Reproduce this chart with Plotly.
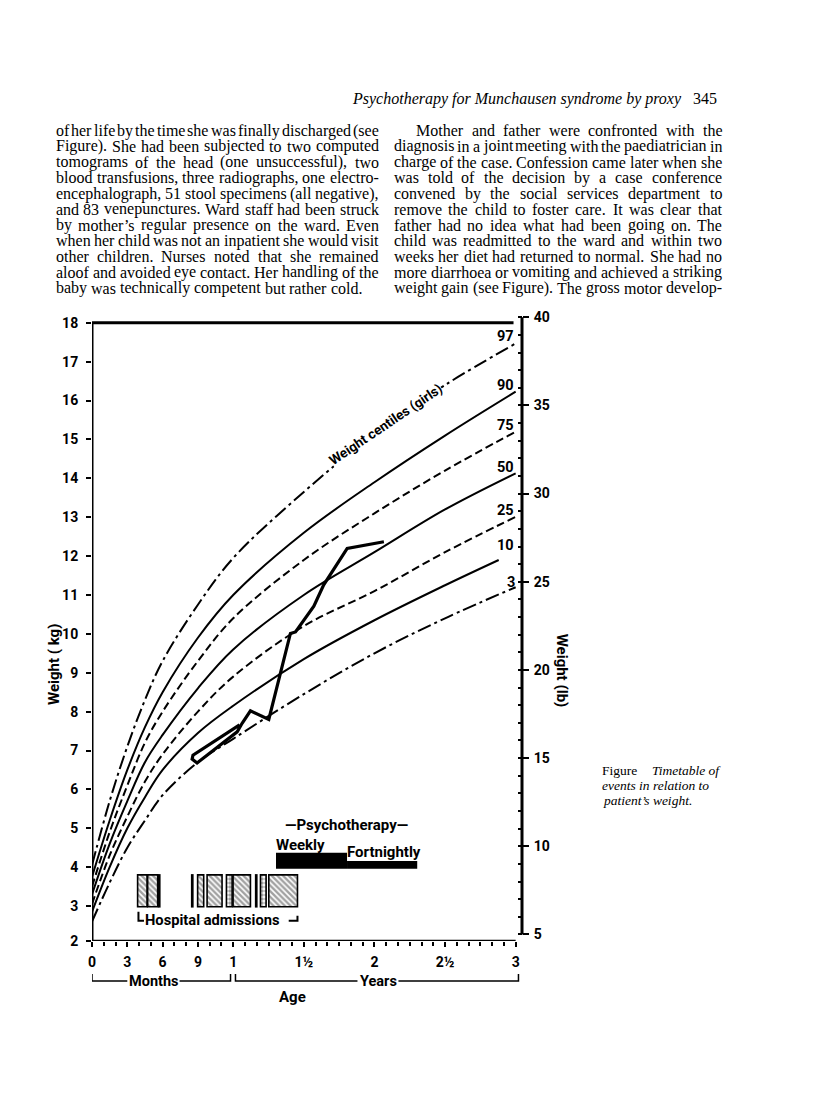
import plotly.graph_objects as go

# ---------------------------------------------------------------------------
# Data
# ---------------------------------------------------------------------------
# centile curves (kg) against age (years)
ages = [0, 0.125, 0.25, 0.375, 0.5, 0.75, 1.0, 1.5, 2.0, 2.5, 3.0]
c97 = [4.05, 5.7, 7.1, 8.3, 9.3, 10.75, 11.95, 13.65, 15.15, 16.4, 17.47]
c90 = [3.75, 5.2, 6.5, 7.6, 8.5, 9.9, 11.0, 12.6, 13.9, 15.1, 16.23]
c75 = [3.5, 4.9, 6.1, 7.2, 8.0, 9.3, 10.4, 11.9, 13.1, 14.2, 15.2]
c50 = [3.3, 4.6, 5.7, 6.7, 7.4, 8.6, 9.6, 11.0, 12.1, 13.2, 14.13]
c25 = [3.05, 4.3, 5.3, 6.2, 6.9, 8.0, 8.9, 10.2, 11.1, 12.1, 13.01]
ages10 = [0, 0.125, 0.25, 0.375, 0.5, 0.75, 1.0, 1.5, 2.0, 2.5, 2.88]
c10 = [2.85, 4.0, 5.0, 5.8, 6.5, 7.45, 8.15, 9.35, 10.35, 11.25, 11.9]
c03 = [2.6, 3.6, 4.5, 5.2, 5.85, 6.7, 7.3, 8.45, 9.5, 10.4, 11.2]

# patient's weight
pt_age = [1.045, 0.715, 0.709, 0.744, 1.028, 1.063, 1.122, 1.252, 1.405, 1.441, 1.571, 1.641, 1.807, 2.067]
pt_kg = [7.66, 6.88, 6.78, 6.68, 7.48, 7.70, 8.02, 7.80, 10.01, 10.05, 10.71, 11.26, 12.20, 12.37]

# hospital admissions (start / end age) and how each block is shaded
adm_start = [0.323, 0.394, 0.472, 0.706, 0.748, 0.815, 0.952, 0.999, 1.159, 1.193, 1.252]
adm_end = [0.390, 0.465, 0.480, 0.714, 0.791, 0.921, 0.992, 1.122, 1.167, 1.233, 1.455]
adm_fill = ["hatch", "hatch", "solid", "solid", "hatch", "hatch", "dots", "hatch", "solid", "dots", "hatch"]

# psychotherapy: weekly then fortnightly
psy_label = ["Weekly", "Fortnightly"]
psy_start = [1.303, 1.806]
psy_end = [1.806, 2.303]
psy_top = [4.37, 4.16]

x_tickvals = [0, 0.25, 0.5, 0.75, 1, 1.5, 2, 2.5, 3]
x_ticktext = ["0", "3", "6", "9", "1", "1½", "2", "2½", "3"]

col1 = [
    "of her life by the time she was finally discharged (see",
    "Figure). She had been subjected to two computed",
    "tomograms of the head (one unsuccessful), two",
    "blood transfusions, three radiographs, one electro-",
    "encephalograph, 51 stool specimens (all negative),",
    "and 83 venepunctures. Ward staff had been struck",
    "by mother’s regular presence on the ward. Even",
    "when her child was not an inpatient she would visit",
    "other children. Nurses noted that she remained",
    "aloof and avoided eye contact. Her handling of the",
    "baby was technically competent but rather cold.",
]
col2 = [
    "Mother and father were confronted with the",
    "diagnosis in a joint meeting with the paediatrician in",
    "charge of the case. Confession came later when she",
    "was told of the decision by a case conference",
    "convened by the social services department to",
    "remove the child to foster care. It was clear that",
    "father had no idea what had been going on. The",
    "child was readmitted to the ward and within two",
    "weeks her diet had returned to normal. She had no",
    "more diarrhoea or vomiting and achieved a striking",
    "weight gain (see Figure). The gross motor develop-",
]

# ---------------------------------------------------------------------------
# Page geometry (pixels on the 816x1114 page)
# ---------------------------------------------------------------------------
W, H = 816, 1114
OFF = 8                      # default body margin of the html page
PL, PR = 92.0, 521.7         # plot area left / right
PT, PB = 317.0, 941.0        # plot area top / bottom
KG_RANGE = [2.1, 18.15]
X_RANGE = [0, 3.045]
LB = 2.20462

SANS = "Roboto, DejaVu Sans Condensed, sans-serif"
SERIF = "Liberation Serif, Times New Roman, serif"


def px_x(p):
    return (p - PL) / (PR - PL)


def px_y(p):
    return (PB - p) / (PB - PT)


# Times widths (1/1000 em) so the columns can be justified word by word
TIMES = dict(zip("abcdefghijklmnopqrstuvwxyz",
                 [444, 500, 444, 500, 444, 333, 500, 500, 278, 278, 500, 278, 778,
                  500, 500, 500, 500, 333, 389, 278, 500, 500, 722, 500, 500, 444]))
TIMES.update(zip("ABCDEFGHIJKLMNOPQRSTUVWXYZ",
                 [722, 667, 667, 722, 611, 556, 722, 722, 333, 389, 722, 611, 889,
                  722, 722, 556, 722, 667, 556, 611, 722, 722, 944, 722, 722, 611]))
TIMES.update({c: 500 for c in "0123456789"})
TIMES.update({"(": 333, ")": 333, ",": 250, ".": 250, "-": 333, "’": 333, "'": 333})

fig = go.Figure()

# centile curves
solid = dict(color="black", width=2)
dashed = dict(color="black", width=2, dash="8px,4px")
dashdot = dict(color="black", width=2, dash="14px,4px,3px,4px")
for xs, ys, ln in [(ages, c97, dashdot), (ages, c90, solid), (ages, c75, dashed),
                   (ages, c50, solid), (ages, c25, dashed), (ages10, c10, solid),
                   (ages, c03, dashdot)]:
    fig.add_trace(go.Scatter(x=xs, y=ys, mode="lines", line=ln, line_shape="spline",
                             hoverinfo="skip"))

# patient weight
fig.add_trace(go.Scatter(x=pt_age, y=pt_kg, mode="lines",
                         line=dict(color="black", width=3.2), hoverinfo="skip"))

# hospital admissions
adm_base, adm_top = 2.98, 3.80
shape_of = {"hatch": "\\", "dots": ".", "solid": ""}
fig.add_trace(go.Bar(
    x=[(a + b) / 2 for a, b in zip(adm_start, adm_end)],
    y=[adm_top - adm_base] * len(adm_start),
    base=adm_base,
    width=[b - a for a, b in zip(adm_start, adm_end)],
    marker=dict(color=["black" if f == "solid" else "white" for f in adm_fill],
                line=dict(color="black", width=1.6),
                pattern=dict(shape=[shape_of[f] for f in adm_fill], fgcolor="black",
                             bgcolor=["black" if f == "solid" else "white" for f in adm_fill],
                             size=4, solidity=0.6)),
    hoverinfo="skip"))

# psychotherapy bar
psy_base = 3.96
fig.add_trace(go.Bar(
    x=[(a + b) / 2 for a, b in zip(psy_start, psy_end)],
    y=[t - psy_base for t in psy_top],
    base=psy_base,
    width=[b - a for a, b in zip(psy_start, psy_end)],
    marker=dict(color="black", line=dict(width=0)),
    hoverinfo="skip"))

# dummy trace so the lb axis is drawn
fig.add_trace(go.Scatter(x=[0], y=[None], yaxis="y2", mode="lines", hoverinfo="skip"))

# frame lines
frame = dict(color="black", width=3)
shapes = [
    dict(type="line", xref="x", yref="y", x0=0, x1=0, y0=KG_RANGE[0], y1=18, line=frame),
    dict(type="line", xref="x", yref="y", x0=0, x1=2.985, y0=18, y1=18, line=frame),
    dict(type="line", xref="x", yref="y", x0=0, x1=3.0, y0=KG_RANGE[0], y1=KG_RANGE[0],
         line=dict(color="black", width=2.5)),
    dict(type="line", xref="paper", yref="y2", x0=1, x1=1, y0=5, y1=40, line=frame),
]

# bracket under the admissions
b_lo, b_hi = 2.62, 2.85
shapes += [
    dict(type="path", xref="x", yref="y",
         path=f"M {adm_start[0] + 0.006},{b_hi} L {adm_start[0] + 0.006},{b_lo} L {adm_start[0] + 0.045},{b_lo}",
         line=dict(color="black", width=2)),
    dict(type="path", xref="x", yref="y",
         path=f"M {adm_end[-1] - 0.062},{b_lo} L {adm_end[-1]},{b_lo} L {adm_end[-1]},{b_lo + 0.13}",
         line=dict(color="black", width=2)),
]

# Months / Years brackets under the axis, broken where the words sit
yb, yt = px_y(981), px_y(974)
for x0, g0, g1, x1 in [(0, 0.25, 0.62, 0.981), (1.016, 1.88, 2.17, 3.02)]:
    shapes.append(dict(type="path", xref="x", yref="paper",
                       path=f"M {x0},{yt} L {x0},{yb} L {g0},{yb}",
                       line=dict(color="black", width=1.5)))
    shapes.append(dict(type="path", xref="x", yref="paper",
                       path=f"M {g1},{yb} L {x1},{yb} L {x1},{yt}",
                       line=dict(color="black", width=1.5)))

ann = []
bold = dict(family=SANS, size=15, color="black", weight="bold")


def add_text(text, x, y, xref="paper", yref="paper", font=bold, **kw):
    d = dict(text=text, x=x, y=y, xref=xref, yref=yref, showarrow=False, font=font,
             borderpad=0, borderwidth=0, xanchor="center", yanchor="middle")
    d.update(kw)
    ann.append(d)


# centile labels
for lab, ax, ay in [("97", 2.929, 17.66), ("90", 2.929, 16.40), ("75", 2.929, 15.37),
                    ("50", 2.929, 14.29), ("25", 2.929, 13.18), ("10", 2.929, 12.28),
                    ("3", 2.965, 11.33)]:
    add_text(lab, ax, ay, xref="x", yref="y", font=dict(bold, size=14.5))

add_text("Weight centiles (girls)", 2.08, 15.4, xref="x", yref="y", textangle=-34,
         bgcolor="white", font=dict(bold, size=13.5))

# psychotherapy text
add_text("—Psychotherapy—", (psy_start[0] + psy_end[-1]) / 2, 5.09, xref="x", yref="y")
add_text(psy_label[0], psy_start[0], 4.57, xref="x", yref="y", xanchor="left")
add_text(psy_label[1], psy_start[1], 4.38, xref="x", yref="y", xanchor="left")

add_text("Hospital admissions", 0.856, 2.63, xref="x", yref="y", font=dict(bold, size=14.7))

# axis titles
add_text("Weight ( kg)", px_x(54), px_y(664), textangle=-90)
add_text("Weight (lb)", px_x(562), px_y(671), textangle=90)
add_text("Months", 0.434, px_y(981), xref="x", font=dict(bold, size=14.5))
add_text("Years", 2.026, px_y(981), xref="x", font=dict(bold, size=14.5))
add_text("Age", 1.417, px_y(997), xref="x")

# page header
hdr = dict(family=SERIF, size=16, color="black")
add_text("<i>Psychotherapy for Munchausen syndrome by proxy</i>", px_x(351.7), px_y(98.5),
         xanchor="left", font=hdr)
add_text("345", px_x(693), px_y(98.5), xanchor="left", font=hdr)

# caption
cap = dict(family=SERIF, size=13.5, color="black")
add_text("Figure", px_x(602), px_y(770), xanchor="left", font=cap)
add_text("<i>Timetable of</i>", px_x(652), px_y(770), xanchor="left", font=cap)
add_text("<i>events in relation to</i>", px_x(602), px_y(785.5), xanchor="left", font=cap)
add_text("<i>patient’s weight.</i>", px_x(603), px_y(800), xanchor="left", font=cap)

# justified body text
body = dict(family=SERIF, size=16, color="black")


def text_block(lines, left, right, top, step, indent=0, last_justified=False):
    size = body["size"]
    for i, line in enumerate(lines):
        words = line.split()
        x0 = left + (indent if i == 0 else 0)
        widths = [sum(TIMES.get(c, 500) for c in w) * size / 1000 for w in words]
        if i == len(lines) - 1 and not last_justified:
            gap = 0.25 * size
        else:
            gap = (right - x0 - sum(widths)) / (len(words) - 1)
        x = x0
        for w, wd in zip(words, widths):
            add_text(w, px_x(x), px_y(top + i * step), xanchor="left", font=body)
            x += wd + gap


text_block(col1, 56, 378.5, 130.5, 15.77)
text_block(col2, 393.5, 721.7, 130.5, 15.77, indent=22.5, last_justified=True)

tickfont = dict(family=SANS, size=14, color="black", weight="bold")
fig.update_layout(
    width=W - OFF, height=H - OFF,
    margin=dict(l=PL - OFF, r=W - PR, t=PT - OFF, b=H - PB, pad=0, autoexpand=False),
    paper_bgcolor="white", plot_bgcolor="white",
    showlegend=False, barmode="overlay",
    xaxis=dict(range=X_RANGE, tickmode="array", tickvals=x_tickvals, ticktext=x_ticktext,
               ticks="outside", ticklen=5, tickwidth=2, tickcolor="black",
               minor=dict(tickvals=[m / 12 for m in range(37)], ticks="outside",
                          ticklen=4, tickwidth=1.5, tickcolor="black"),
               showgrid=False, zeroline=False, showline=False,
               tickfont=tickfont, ticklabelstandoff=3),
    yaxis=dict(range=KG_RANGE, tickmode="array",
               tickvals=[KG_RANGE[0]] + list(range(3, 19)),
               ticktext=["2"] + [str(v) for v in range(3, 19)],
               ticks="outside", ticklen=5, tickwidth=2, tickcolor="black",
               showgrid=False, zeroline=False, showline=False,
               tickfont=tickfont, ticklabelstandoff=5),
    yaxis2=dict(range=[KG_RANGE[0] * LB, KG_RANGE[1] * LB], overlaying="y", side="right",
                anchor="x", tickmode="linear", tick0=0, dtick=5,
                ticks="outside", ticklen=6, tickwidth=2, tickcolor="black",
                minor=dict(dtick=1, tick0=0, ticks="inside", ticklen=4, tickwidth=1.5,
                           tickcolor="black"),
                showgrid=False, zeroline=False, showline=False,
                tickfont=tickfont, ticklabelstandoff=2),
    shapes=shapes,
    annotations=ann,
)

fig.write_html("out.html", config={"displayModeBar": False})
